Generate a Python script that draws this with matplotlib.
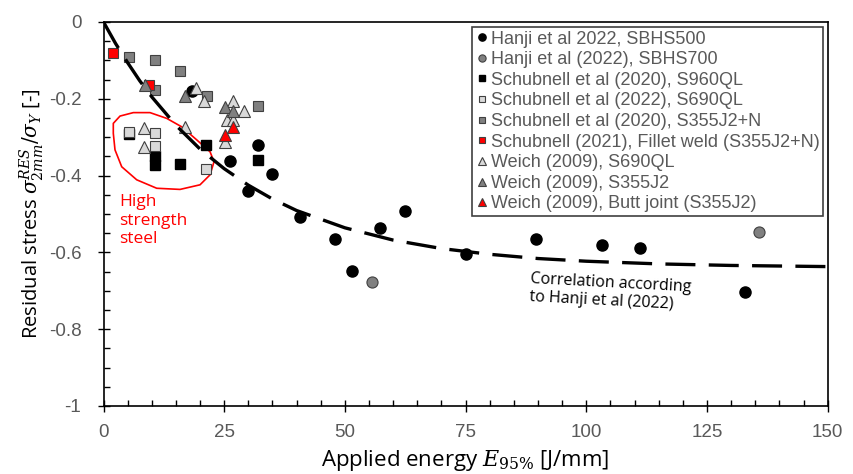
import matplotlib.pyplot as plt
from matplotlib.patches import Polygon
from matplotlib.ticker import MultipleLocator

# Hanji et al (2022), SBHS500
hanji500_e = [18.3, 32.1, 26.1, 34.8, 30.0, 40.6, 48.0, 57.3, 62.5, 51.4, 75.0, 89.6, 103.2, 111.1, 132.9]
hanji500_s = [-0.18, -0.32, -0.361, -0.396, -0.439, -0.507, -0.565, -0.536, -0.491, -0.648, -0.604, -0.566, -0.581, -0.589, -0.702]
# Hanji et al (2022), SBHS700
hanji700_e = [55.7, 135.7]
hanji700_s = [-0.678, -0.546]
# Schubnell et al (2020), S960QL
s960_e = [5.3, 10.7, 10.7, 15.9, 21.2, 31.9]
s960_s = [-0.292, -0.349, -0.372, -0.371, -0.32, -0.359]
# Schubnell et al (2022), S690QL
s690_e = [5.3, 10.7, 10.7, 21.2]
s690_s = [-0.286, -0.29, -0.323, -0.383]
# Schubnell et al (2020), S355J2+N
s355_e = [5.3, 10.7, 15.9, 10.7, 21.4, 31.9]
s355_s = [-0.09, -0.099, -0.127, -0.177, -0.193, -0.219]
# Schubnell (2021), fillet weld
fillet_e = [1.9, 9.5]
fillet_s = [-0.08, -0.164]
# Weich (2009), S690QL
w690_e = [19.2, 20.9, 29.1, 25.5, 26.9, 25.2, 16.8, 8.3, 8.3, 26.8]
w690_s = [-0.173, -0.207, -0.231, -0.255, -0.255, -0.312, -0.273, -0.277, -0.325, -0.207]
# Weich (2009), S355J2
w355_e = [8.5, 16.9, 25.2, 26.8]
w355_s = [-0.164, -0.193, -0.221, -0.231]
# Weich (2009), butt joint
butt_e = [26.8, 25.2]
butt_s = [-0.273, -0.294]

# correlation curve after Hanji et al (2022)
corr_e = [0, 2.5, 5, 7.5, 10, 15, 20, 25, 30, 35, 40, 50, 60, 70, 80, 90, 100, 115, 130, 150]
corr_s = [0, -0.056, -0.106, -0.153, -0.195, -0.269, -0.331, -0.382, -0.425, -0.461, -0.491,
          -0.536, -0.568, -0.590, -0.605, -0.616, -0.623, -0.630, -0.634, -0.637]

# hand drawn outline around the high strength steel group
blob = [(2.03, -0.264), (3.42, -0.245), (6.17, -0.236), (9.63, -0.236), (13.09, -0.251),
        (16.2, -0.273), (19.31, -0.307), (22.07, -0.338), (22.89, -0.364), (22.07, -0.398),
        (19.99, -0.424), (15.85, -0.436), (11.02, -0.433), (6.88, -0.411), (3.77, -0.377),
        (2.38, -0.333), (2.03, -0.29)]

gray_txt = '#595959'
plt.rcParams['font.family'] = ['Liberation Sans', 'DejaVu Sans']
plt.rcParams['mathtext.fontset'] = 'dejavuserif'

fig, ax = plt.subplots(figsize=(8.54, 4.74), dpi=100)
fig.subplots_adjust(left=0.1212, right=0.9692, top=0.9536, bottom=0.1435)

ms = 8
ax.plot(hanji500_e, hanji500_s, 'o', ms=ms, color='black', label='Hanji et al 2022, SBHS500')
ax.plot(hanji700_e, hanji700_s, 'o', ms=ms, mfc='#808080', mec='#404040', mew=0.8,
        label='Hanji et al (2022), SBHS700')
ax.plot(s960_e, s960_s, 's', ms=7.5, color='black', label='Schubnell et al (2020), S960QL')
ax.plot(s690_e, s690_s, 's', ms=7.5, mfc='#d9d9d9', mec='#404040', mew=0.8,
        label='Schubnell et al (2022), S690QL')
ax.plot(s355_e, s355_s, 's', ms=7.5, mfc='#808080', mec='#404040', mew=0.8,
        label='Schubnell et al (2020), S355J2+N')
ax.plot(fillet_e, fillet_s, 's', ms=7.5, mfc='#ff0000', mec='#404040', mew=0.8,
        label='Schubnell (2021), Fillet weld (S355J2+N)')
ax.plot(w690_e, w690_s, '^', ms=9, mfc='#d9d9d9', mec='#404040', mew=0.8,
        label='Weich (2009), S690QL')
ax.plot(w355_e, w355_s, '^', ms=9, mfc='#808080', mec='#404040', mew=0.8,
        label='Weich (2009), S355J2')
ax.plot(butt_e, butt_s, '^', ms=9, mfc='#ff0000', mec='#404040', mew=0.8,
        label='Weich (2009), Butt joint (S355J2)')

ax.plot(corr_e, corr_s, color='black', lw=2.4, dashes=(9, 4), solid_capstyle='butt', zorder=3)

ax.add_patch(Polygon(blob, closed=True, fill=False, ec='#ff0000', lw=1.2, joinstyle='round'))
ax.text(3.2, -0.448, 'High\nstrength\nsteel', color='#ff0000', fontsize=12.5, family='Open Sans',
        va='top', ha='left', linespacing=1.22)
ax.text(88.1, -0.648, 'Correlation according\nto Hanji et al (2022)', color='black', fontsize=11.5,
        family='Open Sans', va='top', ha='left', rotation=-3, linespacing=1.15)

ax.set_xlim(0, 150)
ax.set_ylim(-1, 0)
ax.xaxis.set_major_locator(MultipleLocator(25))
ax.xaxis.set_minor_locator(MultipleLocator(5))
ax.yaxis.set_major_locator(MultipleLocator(0.2))
ax.yaxis.set_minor_locator(MultipleLocator(0.05))
ax.yaxis.set_major_formatter(lambda v, p: '0' if abs(v) < 1e-9 else ('-1' if abs(v + 1) < 1e-9 else f'{v:.1f}'))
ax.tick_params(which='major', direction='inout', length=8, width=1, labelsize=13.5, labelcolor=gray_txt)
ax.tick_params(axis='y', which='major', pad=12)
ax.tick_params(axis='x', which='major', pad=9)
ax.tick_params(which='minor', direction='in', length=4, width=1)
for sp in ax.spines.values():
    sp.set_linewidth(1.2)

ax.set_xlabel(r'Applied energy $E_{95\%}$ [J/mm]', fontsize=16, family='Open Sans', labelpad=5)
ax.set_ylabel(r'Residual stress $\sigma^{RES}_{2mm}/\sigma_Y$ [-]', fontsize=14.5, family='Open Sans', labelpad=2)

leg = ax.legend(loc='upper right', bbox_to_anchor=(0.994, 0.988), fontsize=13, markerscale=0.65,
                handlelength=0.6, handletextpad=0.2, labelspacing=0.2, borderpad=0.22,
                fancybox=False, framealpha=1, borderaxespad=0)
leg.get_frame().set_edgecolor('#404040')
leg.get_frame().set_linewidth(1.2)
for t in leg.get_texts():
    t.set_color(gray_txt)

plt.savefig('out.png', dpi=100)
